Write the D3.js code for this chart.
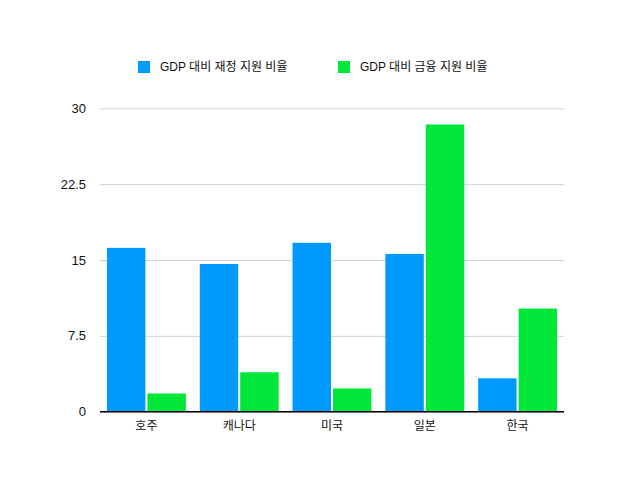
<!DOCTYPE html>
<html lang="ko">
<head>
<meta charset="UTF-8">
<title>GDP 대비 지원 비율</title>
<script src="https://d3js.org/d3.v7.min.js"></script>
<style>
    body { margin: 0; background: #fff; }
    text { font-family: "Liberation Sans", "Noto Sans CJK KR", sans-serif; fill: #111; }
    .grid line { stroke: #d3d3d3; stroke-width: 1; }
    .grid path { display: none; }
</style>
</head>
<body>
<svg id="chart" width="630" height="495"></svg>
<script>
    const countries = ["호주", "캐나다", "미국", "일본", "한국"];
    const fiscal = [16.2, 14.6, 16.7, 15.6, 3.3];
    const financial = [1.8, 3.9, 2.3, 28.4, 10.2];
    const seriesNames = ["GDP 대비 재정 지원 비율", "GDP 대비 금융 지원 비율"];
    const seriesColors = ["#0099fe", "#00e639"];
    const yTicks = [0, 7.5, 15, 22.5, 30];

    const margin = { top: 108.3, right: 66, bottom: 83.3, left: 100 };
    const width = 630 - margin.left - margin.right;
    const height = 495 - margin.top - margin.bottom;

    const svg = d3.select("#chart");
    const g = svg.append("g").attr("transform", `translate(${margin.left},${margin.top})`);

    const x = d3.scaleBand().domain(countries).range([0, width]).paddingInner(0.15).paddingOuter(0.075);
    const xs = d3.scaleBand().domain([0, 1]).range([0, x.bandwidth()]).paddingInner(0.05);
    const y = d3.scaleLinear().domain([0, 30]).range([height, 0]);

    // gridlines
    g.append("g")
        .attr("class", "grid")
        .call(d3.axisLeft(y).tickValues(yTicks).tickSize(-width).tickFormat(""));

    // y labels
    g.append("g").selectAll("text")
        .data(yTicks)
        .enter().append("text")
        .attr("x", -14)
        .attr("y", d => y(d))
        .attr("dy", "0.35em")
        .attr("text-anchor", "end")
        .style("font-size", "13px")
        .text(d => d);

    const rows = countries.map((c, i) => ({ c, vals: [fiscal[i], financial[i]] }));

    const groups = g.selectAll(".country")
        .data(rows)
        .enter().append("g")
        .attr("transform", d => `translate(${x(d.c)},0)`);

    groups.selectAll("rect")
        .data(d => d.vals.map((v, k) => ({ k, v })))
        .enter().append("rect")
        .attr("x", d => xs(d.k))
        .attr("y", d => y(d.v))
        .attr("width", xs.bandwidth())
        .attr("height", d => height - y(d.v))
        .attr("fill", d => seriesColors[d.k]);

    // baseline
    g.append("line")
        .attr("x1", 0).attr("x2", width)
        .attr("y1", height).attr("y2", height)
        .attr("stroke", "#000").attr("stroke-width", 1.5);

    // x labels
    g.append("g").selectAll("text")
        .data(countries)
        .enter().append("text")
        .attr("x", d => x(d) + x.bandwidth() / 2)
        .attr("y", height + 18)
        .attr("text-anchor", "middle")
        .style("font-size", "12px")
        .text(d => d);

    // legend
    const legend = svg.append("g").attr("transform", "translate(138,61)");
    const item = legend.selectAll("g")
        .data(seriesNames)
        .enter().append("g")
        .attr("transform", (d, i) => `translate(${i * 200},0)`);
    item.append("rect")
        .attr("width", 12).attr("height", 12)
        .attr("fill", (d, i) => seriesColors[i]);
    item.append("text")
        .attr("x", 22).attr("y", 6)
        .attr("dy", "0.35em")
        .style("font-size", "12px")
        .text(d => d);
</script>
</body>
</html>
